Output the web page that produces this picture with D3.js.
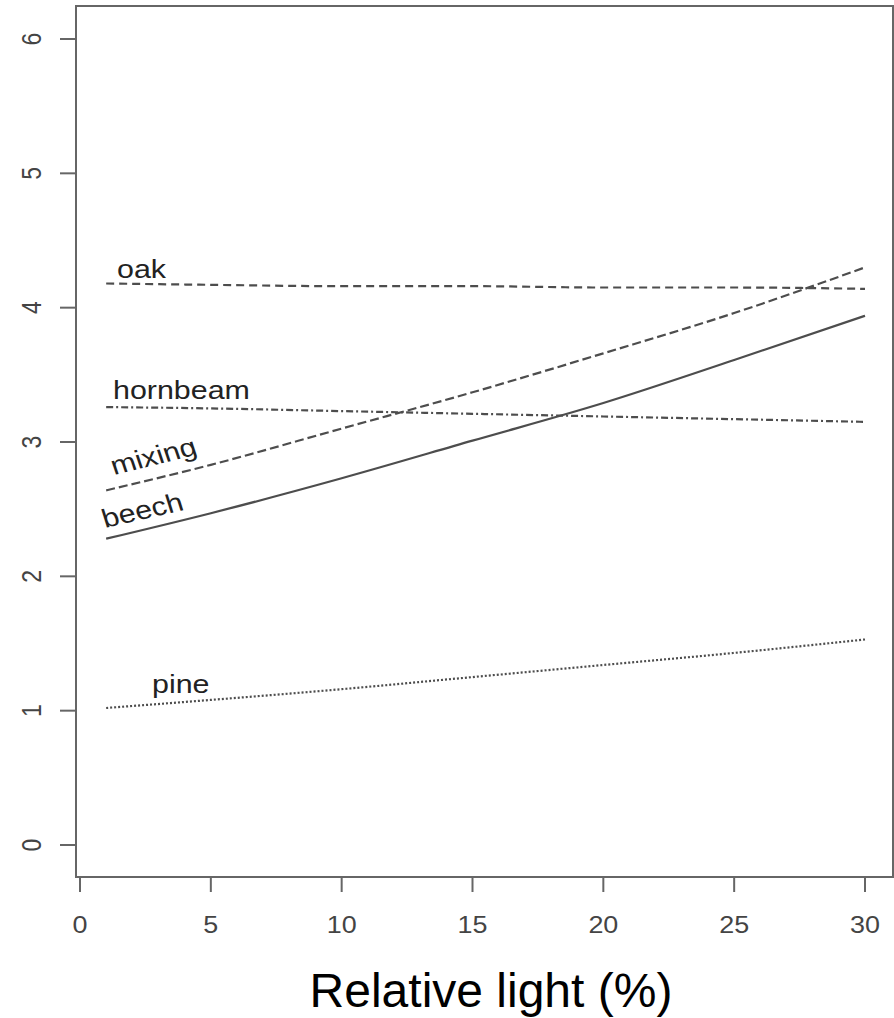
<!DOCTYPE html>
<html>
<head>
<meta charset="utf-8">
<script src="https://cdn.jsdelivr.net/npm/d3@7"></script>
<style>
  body { margin: 0; background: #fff; }
  svg { display: block; font-family: "Liberation Sans", Arial, sans-serif; }
</style>
</head>
<body>
<svg width="894" height="1018"></svg>
<script>
const light = [1, 5, 10, 15, 20, 25, 30]
const oak = [4.18, 4.17, 4.16, 4.16, 4.15, 4.15, 4.14]
const hornbeam = [3.26, 3.25, 3.23, 3.21, 3.19, 3.17, 3.15]
const mixing = [2.64, 2.83, 3.10, 3.37, 3.66, 3.96, 4.30]
const beech = [2.28, 2.47, 2.73, 3.01, 3.29, 3.61, 3.94]
const pine = [1.02, 1.08, 1.16, 1.25, 1.34, 1.43, 1.53]
const xTicks = [0, 5, 10, 15, 20, 25, 30]
const yTicks = [0, 1, 2, 3, 4, 5, 6]

// the original picture is stretched sideways a bit
const sx = 1.17

const series = [
  { name: 'oak', values: oak, dash: '8,5' },
  { name: 'hornbeam', values: hornbeam, dash: '7,3,2,3' },
  { name: 'mixing', values: mixing, dash: '9,4' },
  { name: 'beech', values: beech, dash: null },
  { name: 'pine', values: pine, dash: '2,2' }
]

const svg = d3.select('svg')
const x = d3.scaleLinear().domain([0, 30]).range([80, 865])
const y = d3.scaleLinear().domain([0, 6]).range([845, 39])

const box = { left: 76, right: 893, top: 6, bottom: 877 }

svg.append('rect')
  .attr('x', box.left).attr('y', box.top)
  .attr('width', box.right - box.left).attr('height', box.bottom - box.top)
  .attr('fill', 'none').attr('stroke', '#666').attr('stroke-width', 2)

// y axis ticks + labels
svg.selectAll('.ytick').data(yTicks).enter().append('line')
  .attr('x1', box.left - 16).attr('x2', box.left)
  .attr('y1', d => y(d)).attr('y2', d => y(d))
  .attr('stroke', '#666').attr('stroke-width', 2)

svg.selectAll('.ylab').data(yTicks).enter().append('text')
  .attr('transform', d => `translate(41, ${y(d)}) scale(${sx},1) rotate(-90)`)
  .attr('text-anchor', 'middle')
  .attr('font-size', 23)
  .attr('fill', '#444')
  .text(d => d)

// x axis ticks + labels
svg.selectAll('.xtick').data(xTicks).enter().append('line')
  .attr('x1', d => x(d)).attr('x2', d => x(d))
  .attr('y1', box.bottom).attr('y2', box.bottom + 15)
  .attr('stroke', '#666').attr('stroke-width', 2)

svg.selectAll('.xlab').data(xTicks).enter().append('text')
  .attr('transform', d => `translate(${x(d)}, 933) scale(${sx},1)`)
  .attr('text-anchor', 'middle')
  .attr('font-size', 23)
  .attr('fill', '#444')
  .text(d => d)

// curves
const line = d3.line()
  .x((d, i) => x(light[i]))
  .y(d => y(d))
  .curve(d3.curveMonotoneX)

svg.append('g')
  .selectAll('path')
  .data(series)
  .enter()
  .append('path')
  .attr('d', d => line(d.values))
  .attr('fill', 'none')
  .attr('stroke', '#4d4d4d')
  .attr('stroke-width', 2.2)
  .attr('stroke-dasharray', d => d.dash)

// series labels
const labels = [
  { text: 'oak', x: 117, y: 278, rot: 0 },
  { text: 'hornbeam', x: 113, y: 399, rot: 0 },
  { text: 'mixing', x: 114, y: 475, rot: -16 },
  { text: 'beech', x: 105, y: 528, rot: -15 },
  { text: 'pine', x: 152, y: 693, rot: 0 }
]

svg.append('g')
  .selectAll('text')
  .data(labels)
  .enter()
  .append('text')
  .attr('transform', d => `translate(${d.x}, ${d.y}) scale(${sx},1) rotate(${d.rot})`)
  .attr('font-size', 26)
  .attr('fill', '#222')
  .text(d => d.text)

svg.append('text')
  .attr('x', 491).attr('y', 1007)
  .attr('text-anchor', 'middle')
  .attr('font-size', 48)
  .attr('fill', '#000')
  .text('Relative light (%)')
</script>
</body>
</html>
